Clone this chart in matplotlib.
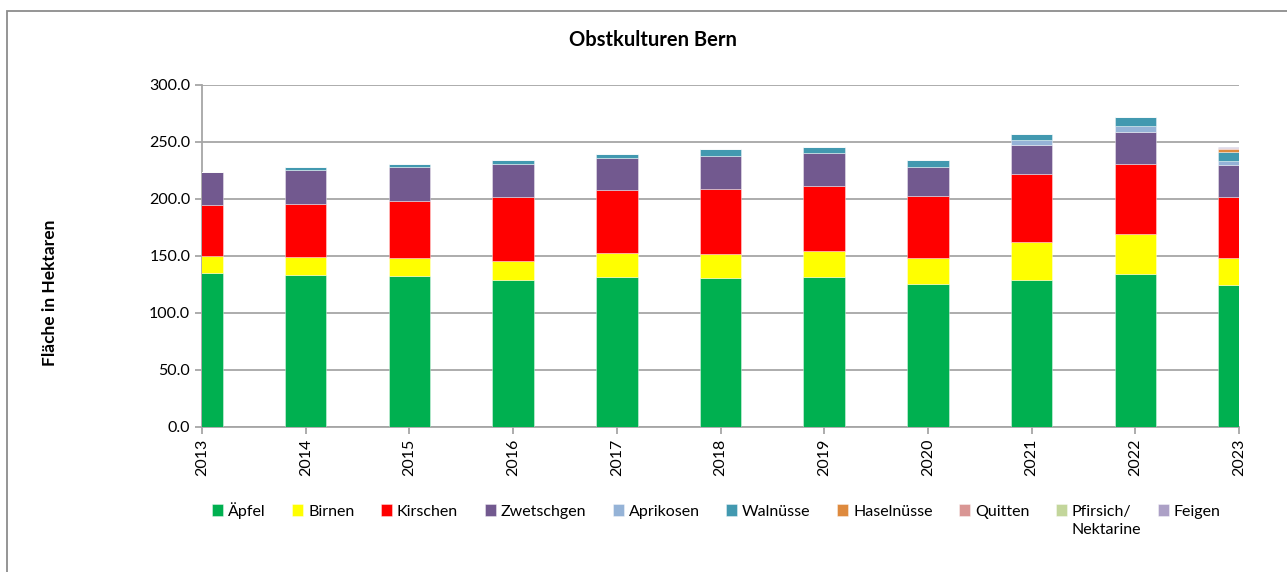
import numpy as np
import matplotlib
matplotlib.use('Agg')
import matplotlib.pyplot as plt
from matplotlib.patches import Rectangle
from matplotlib.ticker import MultipleLocator, FormatStrFormatter

years = [2013, 2014, 2015, 2016, 2017, 2018, 2019, 2020, 2021, 2022, 2023]

# Fläche in Hektaren pro Kultur
aepfel     = [135.1, 133.3, 132.5, 129.0, 131.9, 131.0, 131.9, 125.7, 128.9, 133.9, 124.8]
birnen     = [15.2, 15.8, 15.5, 16.9, 20.7, 21.0, 22.8, 22.5, 33.7, 35.7, 23.4]
kirschen   = [44.7, 46.8, 50.5, 55.9, 55.0, 56.8, 57.0, 54.4, 59.6, 60.8, 53.8]
zwetschgen = [29.0, 29.8, 29.5, 29.2, 28.7, 29.2, 28.3, 25.8, 25.4, 28.6, 27.6]
aprikosen  = [0.0, 0.0, 0.0, 0.0, 0.0, 0.0, 0.0, 0.0, 4.2, 5.0, 3.7]
walnuesse  = [0.0, 2.6, 2.7, 3.2, 2.9, 5.6, 5.3, 5.8, 5.2, 7.6, 8.2]
haselnuesse = [0.0, 0.0, 0.0, 0.0, 0.0, 0.0, 0.0, 0.0, 0.0, 0.0, 2.2]
quitten    = [0.0, 0.0, 0.0, 0.0, 0.0, 0.0, 0.0, 0.0, 0.0, 0.0, 0.7]
pfirsich   = [0.0, 0.0, 0.0, 0.0, 0.0, 0.0, 0.0, 0.0, 0.0, 0.0, 0.3]
feigen     = [0.0, 0.0, 0.0, 0.0, 0.0, 0.0, 0.0, 0.0, 0.0, 0.0, 0.8]

labels = ['Äpfel', 'Birnen', 'Kirschen', 'Zwetschgen', 'Aprikosen', 'Walnüsse',
          'Haselnüsse', 'Quitten', 'Pfirsich/', 'Feigen']
series = [aepfel, birnen, kirschen, zwetschgen, aprikosen, walnuesse,
          haselnuesse, quitten, pfirsich, feigen]
colors = ['#00B050', '#FFFF00', '#FF0000', '#72598F', '#95B3D7', '#4299B0',
          '#DE8A3E', '#D99694', '#C3D69B', '#ACA0C6']

plt.rcParams['font.family'] = ['Lato', 'DejaVu Sans']

fig = plt.figure(figsize=(12.87, 5.72), dpi=100)
ax = fig.add_axes([0.157, 0.2535, 0.8057, 0.598])

bottom = np.zeros(len(years))
for lab, vals, col in zip(labels, series, colors):
    ax.bar(years, vals, width=0.4, bottom=bottom, color=col, label=lab,
           edgecolor=(1, 1, 1, 0.45), linewidth=0.6, zorder=3)
    bottom = bottom + np.array(vals)

ax.set_xlim(2013, 2023)
ax.set_ylim(0, 300)
ax.yaxis.set_major_locator(MultipleLocator(50))
ax.yaxis.set_major_formatter(FormatStrFormatter('%.1f'))
ax.set_xticks(years)
ax.set_xticklabels([str(y) for y in years], rotation=90)
ax.grid(axis='y', color='#A6A6A6', linewidth=1.3, zorder=0)
for s in ['top', 'right']:
    ax.spines[s].set_visible(False)
for s in ['left', 'bottom']:
    ax.spines[s].set_color('#A6A6A6')
    ax.spines[s].set_linewidth(1.3)
ax.tick_params(axis='both', colors='#A6A6A6', labelcolor='black', labelsize=11.5,
               length=5, width=1.3)

fig.text(0.5075, 0.93, 'Obstkulturen Bern', ha='center', va='center',
         fontsize=14.5, fontweight='bold')
fig.text(0.039, 0.488, 'Fläche in Hektaren', ha='center', va='center',
         rotation=90, fontsize=12.5, fontweight='bold')

leg = fig.legend(loc='upper center', bbox_to_anchor=(0.5567, 0.134), ncol=10,
                 frameon=False, fontsize=11.5, handlelength=0.7, handleheight=0.7,
                 handletextpad=0.3, columnspacing=1.66, borderaxespad=0)

# zweite Zeile des Eintrags "Pfirsich/ Nektarine"
fig.canvas.draw()
bb = leg.get_texts()[8].get_window_extent().transformed(fig.transFigure.inverted())
fig.text(bb.x0, bb.y0 - 0.008, 'Nektarine', ha='left', va='top', fontsize=11.5)

# Rahmen des Diagrammbereichs
fig.patches.append(Rectangle((7 / 1287, -0.1), 1.2, 1.1 - 10.5 / 572,
                             transform=fig.transFigure, fill=False,
                             edgecolor='#8C8C8C', linewidth=1.3))

fig.savefig('out.png', dpi=100)
